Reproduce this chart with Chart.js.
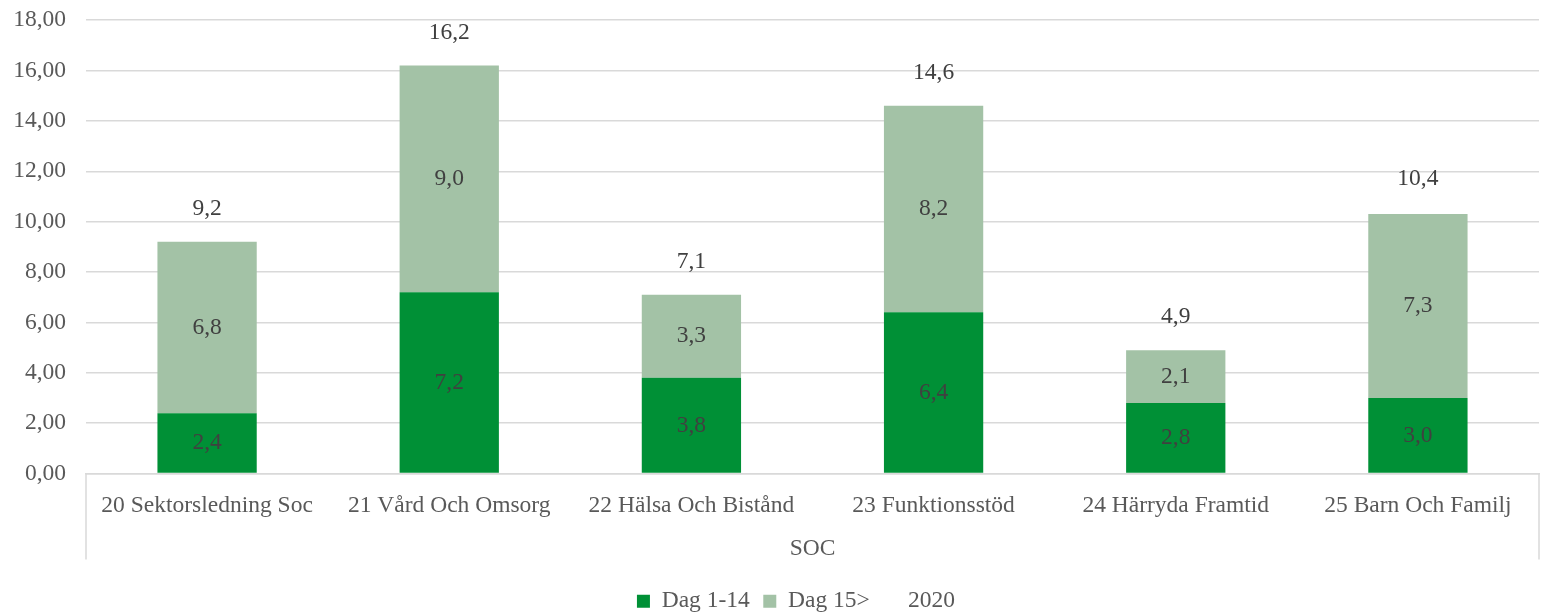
<!DOCTYPE html>
<html>
<head>
<meta charset="utf-8">
<script src="https://cdn.jsdelivr.net/npm/chart.js@4/dist/chart.umd.min.js"></script>
<style>
  html, body { margin: 0; padding: 0; background: #fff; overflow: hidden; }
  #wrap { width: 1562px; height: 637px; margin-top: -14px; }
</style>
</head>
<body>
<div id="wrap"><canvas id="myChart"></canvas></div>
<script>
var categories = ['20 Sektorsledning Soc', '21 Vård Och Omsorg', '22 Hälsa Och Bistånd', '23 Funktionsstöd', '24 Härryda Framtid', '25 Barn Och Familj'];
var dag1to14 = [2.4, 7.2, 3.8, 6.4, 2.8, 3.0];
var dag15plus = [6.8, 9.0, 3.3, 8.2, 2.1, 7.3];
var total2020 = [9.2, 16.2, 7.1, 14.6, 4.9, 10.4];

var serif = "'Liberation Serif', 'Times New Roman', serif";
var fs = 23.5;
var textGrey = '#595959';
var labelGrey = '#404040';
var gridGrey = '#d9d9d9';

function comma(v, d) { return v.toFixed(d).replace('.', ','); }

// value labels: centred inside the bars, above the point for the total series
var valueLabels = {
  id: 'valueLabels',
  afterDatasetsDraw: function (chart) {
    var ctx = chart.ctx;
    ctx.save();
    ctx.font = fs + 'px ' + serif;
    ctx.fillStyle = labelGrey;
    ctx.textAlign = 'center';
    ctx.textBaseline = 'middle';
    chart.data.datasets.forEach(function (ds, i) {
      var meta = chart.getDatasetMeta(i);
      meta.data.forEach(function (el, j) {
        var p = el.getProps(['x', 'y', 'base'], true);
        if (ds.type === 'line') {
          ctx.fillText(comma(ds.data[j], 1), p.x, p.y - 33);
        } else {
          ctx.fillText(comma(ds.data[j], 1), p.x, (p.y + p.base) / 2);
        }
      });
    });
    ctx.restore();
  }
};

// outer separators of the category axis, running down past the group label
var axisFrame = {
  id: 'axisFrame',
  afterDraw: function (chart) {
    var a = chart.chartArea;
    var ctx = chart.ctx;
    ctx.save();
    ctx.strokeStyle = gridGrey;
    ctx.lineWidth = 1.5;
    ctx.beginPath();
    ctx.moveTo(a.left, a.bottom);
    ctx.lineTo(a.left, a.bottom + 86);
    ctx.moveTo(a.right, a.bottom);
    ctx.lineTo(a.right, a.bottom + 86);
    ctx.stroke();
    ctx.restore();
  }
};

// nudge the legend a little to the right of the canvas centre
var legendShift = {
  id: 'legendShift',
  afterLayout: function (chart) {
    if (chart.legend) {
      chart.legend.left += 15;
      chart.legend.right += 15;
    }
  }
};

var ctx = document.getElementById('myChart').getContext('2d');
var myChart = new Chart(ctx, {
  type: 'bar',
  data: {
    labels: categories,
    datasets: [
      { label: 'Dag 1-14', data: dag1to14, backgroundColor: '#009036', stack: 's' },
      { label: 'Dag 15>', data: dag15plus, backgroundColor: '#a3c2a6', stack: 's' },
      { label: '2020', type: 'line', data: total2020, stack: 'total',
        showLine: false, pointRadius: 0, pointHoverRadius: 0,
        backgroundColor: 'rgba(0,0,0,0)', borderColor: 'rgba(0,0,0,0)' }
    ]
  },
  options: {
    responsive: true,
    maintainAspectRatio: false,
    animation: false,
    layout: { padding: { left: 0, right: 0, top: 0, bottom: 0 } },
    datasets: { bar: { categoryPercentage: 1, barPercentage: 0.41 } },
    plugins: {
      legend: {
        position: 'bottom',
        labels: {
          font: { family: serif, size: fs },
          color: textGrey,
          boxWidth: 13,
          boxHeight: 13,
          padding: 13.5
        }
      },
      tooltip: { enabled: false }
    },
    scales: {
      x: {
        stacked: true,
        grid: { display: false, drawTicks: false },
        border: { color: gridGrey, width: 1.5 },
        ticks: { font: { family: serif, size: fs }, color: textGrey, padding: 18, maxRotation: 0 },
        title: { display: true, text: 'SOC', font: { family: serif, size: fs }, color: textGrey, padding: { top: -3, bottom: 13 } }
      },
      y: {
        stacked: true,
        min: 0,
        max: 18,
        afterFit: function (scale) { scale.width = 86; },
        grid: { color: gridGrey, lineWidth: 1.5, drawTicks: false },
        border: { display: false },
        ticks: {
          stepSize: 2,
          padding: 20,
          font: { family: serif, size: fs },
          color: textGrey,
          callback: function (v) { return comma(v, 2); }
        }
      },
      // empty right-hand axis, only keeps a margin on the right of the plot
      yRight: {
        position: 'right',
        display: true,
        afterFit: function (scale) { scale.width = 23; },
        grid: { display: false, drawTicks: false },
        border: { display: false },
        ticks: { display: false }
      }
    }
  },
  plugins: [valueLabels, axisFrame, legendShift]
});
</script>
</body>
</html>
